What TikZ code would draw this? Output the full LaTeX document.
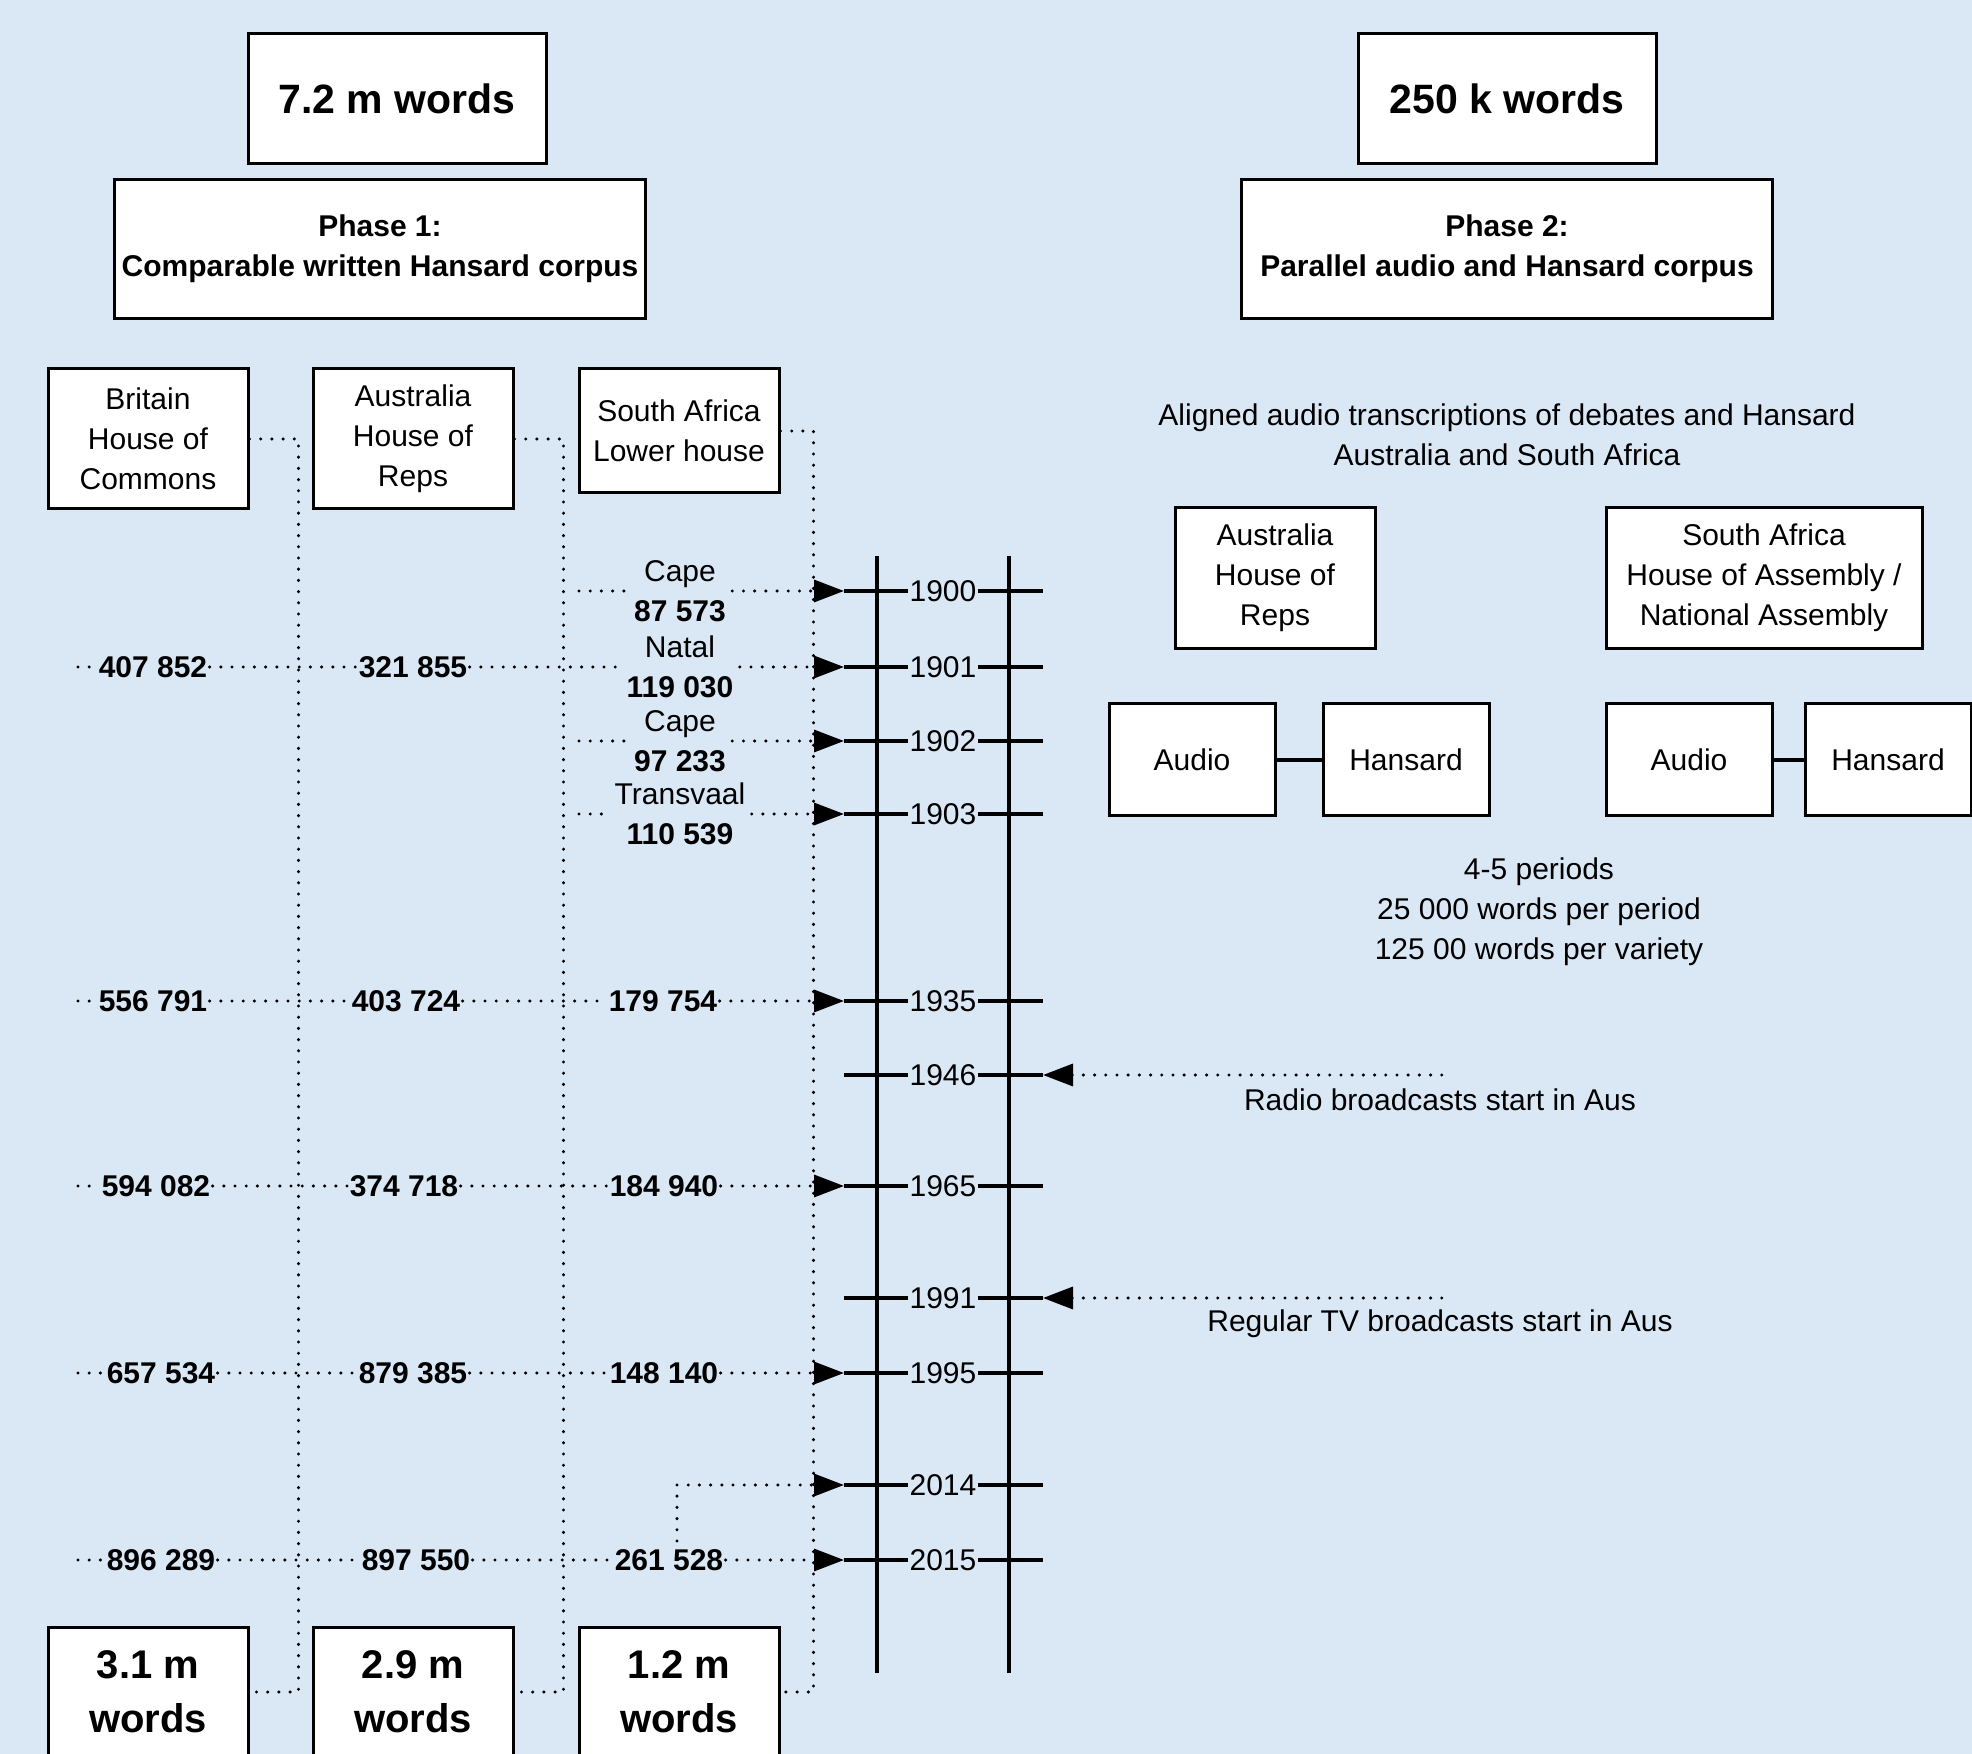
\documentclass[tikz,border=0pt]{standalone}
\usepackage{fontspec}
\setmainfont{Liberation Sans}
\usetikzlibrary{arrows.meta}
\definecolor{paper}{RGB}{218,231,245}

\begin{document}
\begin{tikzpicture}[x=0.5pt,y=-0.5pt,
  box/.style={draw,line width=1.5pt,fill=white,align=center,inner sep=0pt,
    font=\fontsize{15}{20}\selectfont},
  bigbox/.style={box,font=\bfseries\fontsize{20.5}{26}\selectfont},
  sumbox/.style={box,font=\bfseries\fontsize{20}{27}\selectfont},
  txt/.style={align=center,inner sep=1pt,font=\fontsize{15}{20}\selectfont},
  val/.style={txt,fill=paper,font=\bfseries\fontsize{15}{20}\selectfont},
  region/.style={txt,fill=paper,inner sep=3pt},
  yr/.style={txt,fill=paper,inner sep=0.5pt},
  dotline/.style={line width=1.7pt,line cap=round,dash pattern=on 0pt off 5.6pt},
  dotrow/.style={dotline,-{Triangle[length=15pt,width=11pt]}},
  dotback/.style={dotline,{Triangle[length=15pt,width=11pt]}-},
  tickline/.style={line width=2pt},
  axis/.style={line width=2pt}]

\path[fill=paper,use as bounding box] (0,0) rectangle (1972,1754);

% phase headers
\node[bigbox,minimum width=149pt,minimum height=65pt] (total1) at (397,99) {7.2 m words};
\node[bigbox,minimum width=149pt,minimum height=65pt] (total2) at (1507,99) {250 k words};
\node[box,font=\bfseries\fontsize{15}{20}\selectfont,minimum width=265.5pt,minimum height=69.5pt] (phase1) at (380,249) {Phase 1:\\Comparable written Hansard corpus};
\node[box,font=\bfseries\fontsize{15}{20}\selectfont,minimum width=265.5pt,minimum height=69.5pt] (phase2) at (1507,249) {Phase 2:\\Parallel audio and Hansard corpus};

% phase 1 varieties
\node[box,minimum width=100pt,minimum height=70pt] (brit) at (148,439) {Britain\\House of\\Commons};
\node[box,minimum width=100pt,minimum height=70pt] (aus) at (413,439) {Australia\\House of\\Reps};
\node[box,minimum width=100pt,minimum height=62pt] (saf) at (679,431) {South Africa\\Lower house};
\node[sumbox,minimum width=100pt,minimum height=65pt] (britsum) at (148,1692) {3.1 m\\words};
\node[sumbox,minimum width=100pt,minimum height=65pt] (aussum) at (413,1692) {2.9 m\\words};
\node[sumbox,minimum width=100pt,minimum height=65pt] (safsum) at (679,1692) {1.2 m\\words};
\draw[dotline] (brit.east) -- ++(49,0) |- (britsum.east);
\draw[dotline] (aus.east) -- ++(49,0) |- (aussum.east);
\draw[dotline] (saf.east) -- ++(33,0) |- (safsum.east);

% timeline
\coordinate (axl1) at (877,556);
\coordinate (axl2) at (877,1673);
\coordinate (axr1) at (1009,556);
\coordinate (axr2) at (1009,1673);
\draw[axis] (axl1) -- (axl2);
\draw[axis] (axr1) -- (axr2);
\foreach \yr/\y in {1900/591,1901/667,1902/741,1903/814,1935/1001,1946/1075,
                    1965/1186,1991/1298,1995/1373,2014/1485,2015/1560}{
  \coordinate (ts\yr) at (844,\y);
  \coordinate (te\yr) at (1043,\y);
  \node[yr] (y\yr) at (943,\y) {\yr};
  \draw[tickline] (ts\yr) -- (y\yr) -- (te\yr);
}

% colonies before union
\node[region] (c1900) at (680,591) {Cape\\\textbf{87 573}};
\node[region] (c1902) at (680,741) {Cape\\\textbf{97 233}};
\node[region] (c1903) at (680,814) {Transvaal\\\textbf{110 539}};
\coordinate (r1900) at (579,591);
\coordinate (r1902) at (579,741);
\coordinate (r1903) at (579,814);
\draw[dotrow] (r1900) -- (c1900) -- (ts1900);
\draw[dotrow] (r1902) -- (c1902) -- (ts1902);
\draw[dotrow] (r1903) -- (c1903) -- (ts1903);

% sampled years, all three varieties
\node[val] (b1901) at (153,667) {407 852};
\node[val] (a1901) at (413,667) {321 855};
\node[region] (n1901) at (680,667) {Natal\\\textbf{119 030}};
\node[val] (b1935) at (153,1001) {556 791};
\node[val] (a1935) at (406,1001) {403 724};
\node[val] (s1935) at (663,1001) {179 754};
\node[val] (b1965) at (156,1186) {594 082};
\node[val] (a1965) at (404,1186) {374 718};
\node[val] (s1965) at (664,1186) {184 940};
\node[val] (b1995) at (161,1373) {657 534};
\node[val] (a1995) at (413,1373) {879 385};
\node[val] (s1995) at (664,1373) {148 140};
\node[val] (b2015) at (161,1560) {896 289};
\node[val] (a2015) at (416,1560) {897 550};
\node[val] (s2015) at (669,1560) {261 528};
\foreach \yr in {1901,1935,1965,1995,2015}
  \coordinate (r\yr) at (78,0 |- ts\yr);
\draw[dotrow] (r1901) -- (b1901) -- (a1901) -- (n1901) -- (ts1901);
\draw[dotrow] (r1935) -- (b1935) -- (a1935) -- (s1935) -- (ts1935);
\draw[dotrow] (r1965) -- (b1965) -- (a1965) -- (s1965) -- (ts1965);
\draw[dotrow] (r1995) -- (b1995) -- (a1995) -- (s1995) -- (ts1995);
\draw[dotrow] (r2015) -- (b2015) -- (a2015) -- (s2015) -- (ts2015);
\draw[dotrow] ([xshift=4pt,yshift=3pt]s2015.north) |- (ts2014);

% broadcasting events
\node[txt] (radio) at (1440,1100) {Radio broadcasts start in Aus};
\node[txt] (tv) at (1440,1324) {Regular TV broadcasts start in Aus};
\coordinate (re1946) at (1443,1075);
\coordinate (re1991) at (1443,1298);
\draw[dotback] (te1946) -- (re1946);
\draw[dotback] (te1991) -- (re1991);

% phase 2
\node[txt] (aligned) at (1507,435) {Aligned audio transcriptions of debates and Hansard\\Australia and South Africa};
\node[box,minimum width=100pt,minimum height=70.5pt] (ausr) at (1275,578) {Australia\\House of\\Reps};
\node[box,minimum width=158pt,minimum height=70.5pt] (safr) at (1764,578) {South Africa\\House of Assembly /\\National Assembly};
\node[box,minimum width=83pt,minimum height=56pt] (audio1) at (1192,760) {Audio};
\node[box,minimum width=83pt,minimum height=56pt] (hans1) at (1406,760) {Hansard};
\node[box,minimum width=83pt,minimum height=56pt] (audio2) at (1689,760) {Audio};
\node[box,minimum width=83pt,minimum height=56pt] (hans2) at (1888,760) {Hansard};
\draw[tickline] (audio1) -- (hans1);
\draw[tickline] (audio2) -- (hans2);
\node[txt] (periods) at (1539,912) {4-5 periods\\25 000 words per period\\125 00 words per variety};
\end{tikzpicture}
\end{document}
